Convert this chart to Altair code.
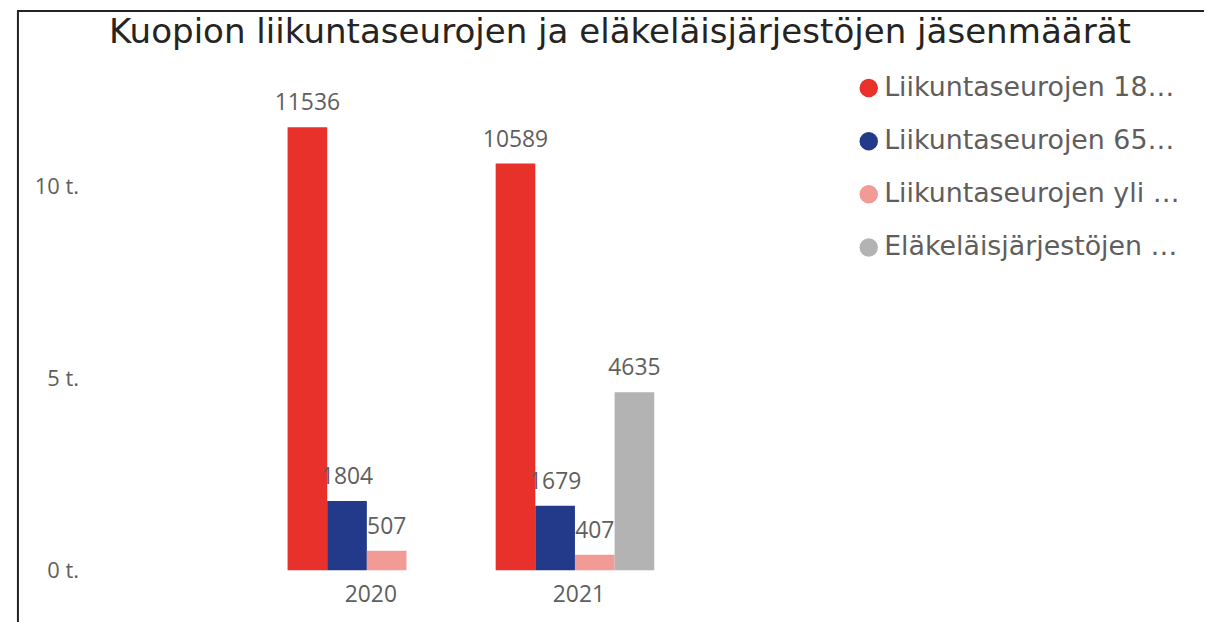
import altair as alt
import pandas as pd

years = ["2020", "2021"]
series = [
    "Liikuntaseurojen 18–64-vuotiaat jäsenet",
    "Liikuntaseurojen 65–74-vuotiaat jäsenet",
    "Liikuntaseurojen yli 75-vuotiaat jäsenet",
    "Eläkeläisjärjestöjen jäsenet yhteensä",
]
values_2020 = [11536, 1804, 507, None]
values_2021 = [10589, 1679, 407, 4635]
colors = ["#E8312B", "#233A8B", "#F29A96", "#B3B3B3"]
title_text = "Kuopion liikuntaseurojen ja eläkeläisjärjestöjen jäsenmäärät"

rows = []
for yr, vals in zip(years, [values_2020, values_2021]):
    for s, v in zip(series, vals):
        if v is not None:
            rows.append({"vuosi": yr, "sarja": s, "arvo": v})
df = pd.DataFrame(rows)

FONT = "Segoe UI, Open Sans, sans-serif"
WIDE = "DejaVu Sans"
TXT = "#605E5C"

base = alt.Chart(df).encode(
    x=alt.X(
        "vuosi:N",
        sort=years,
        scale=alt.Scale(paddingInner=0.238, paddingOuter=0.952),
        axis=alt.Axis(
            title=None, labelAngle=0, domain=False, ticks=False,
            labelFontSize=23, labelColor=TXT, labelPadding=13, labelOffset=4,
            labelFont=FONT,
        ),
    ),
    xOffset=alt.XOffset(
        "sarja:N", sort=series,
        scale=alt.Scale(domain=series, paddingInner=0, paddingOuter=0),
    ),
    y=alt.Y(
        "arvo:Q",
        scale=alt.Scale(domain=[0, 12000], nice=False),
        axis=alt.Axis(
            title=None, values=[0, 5000, 10000],
            labelExpr="datum.value / 1000 + ' t.'",
            grid=False, domain=False, ticks=False, labelPadding=11,
            labelFontSize=22, labelColor=TXT, labelFont=FONT,
        ),
    ),
)

bars = base.mark_bar().encode(
    color=alt.Color(
        "sarja:N", sort=series,
        scale=alt.Scale(domain=series, range=colors),
        legend=alt.Legend(
            title=None, orient="none", legendX=771, legendY=-35,
            symbolType="circle", symbolSize=346, symbolStrokeWidth=0,
            labelFontSize=27, labelFont=WIDE, labelColor=TXT,
            labelLimit=300.5, labelOffset=2, rowPadding=25.5, padding=0,
        ),
    )
)

labels = base.mark_text(
    dy=-17, baseline="alphabetic", fontSize=23, color=TXT, font=FONT
).encode(text=alt.Text("arvo:Q", format="d"))

frame = alt.Chart(pd.DataFrame({"a": [0]})).mark_rect(
    filled=False, stroke="#222222", strokeWidth=2
).encode(
    x=alt.value(-72), x2=alt.value(1250),
    y=alt.value(-99), y2=alt.value(700),
)

chart = alt.layer(frame, bars, labels).properties(
    width=768, height=464,
    padding={"left": 82, "top": 100, "right": 354, "bottom": 50},
    autosize=alt.AutoSizeParams(type="none"),
    title=alt.TitleParams(
        title_text, fontSize=34.3, font=WIDE, color="#252423",
        fontWeight="normal", anchor="middle", dx=150, offset=-67,
        baseline="alphabetic",
    ),
).configure_view(stroke=None)

chart.save("out.html", embed_options={"renderer": "svg", "actions": False})
